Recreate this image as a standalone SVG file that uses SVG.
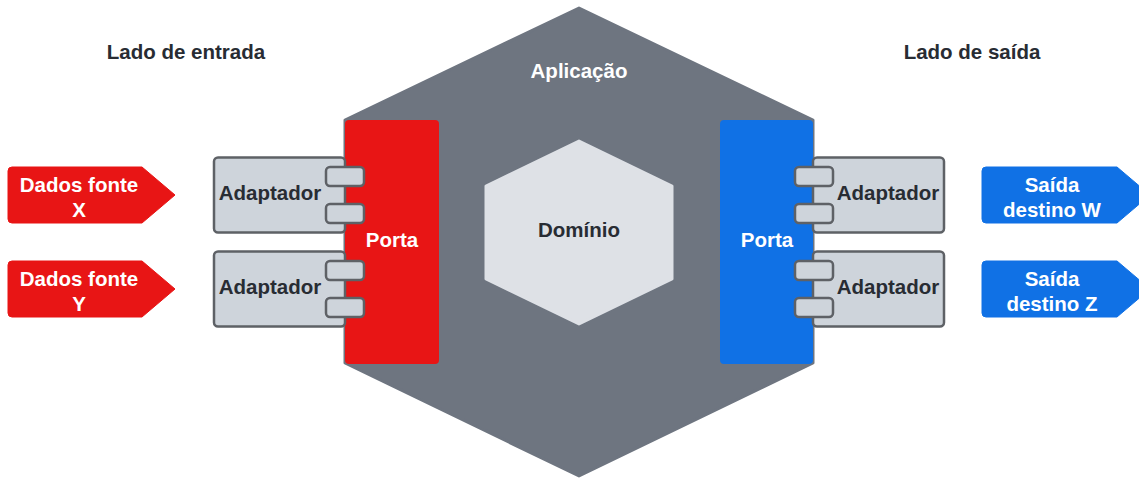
<svg xmlns="http://www.w3.org/2000/svg" width="1139" height="478" viewBox="0 0 1139 478">
<style>
text{font-family:"Liberation Sans",Arial,sans-serif;font-weight:bold;font-size:20.5px;text-anchor:middle}
.dark{fill:#282c33}
.light{fill:#ffffff}
.adapter{fill:#ced4db;stroke:#5e6166;stroke-width:2.5}
.tab{fill:#ced4db;stroke:#5e6166;stroke-width:2.5}
</style>
<rect width="1139" height="478" fill="#ffffff"/>
<g id="titles">
<text class="dark" x="186" y="59">Lado de entrada</text>
<text class="dark" x="972" y="59">Lado de saída</text>
</g>
<g id="aplicacao">
<path d="M579,8 L813,120 L813,363 L579,476 L345,363 L345,120 Z" fill="#6e7580" stroke="#6e7580" stroke-width="3" stroke-linejoin="round"/>
<text class="light" x="579" y="78">Aplicação</text>
</g>
<g id="dominio">
<path d="M579,141 L672,186 L672,279 L579,324 L486,279 L486,186 Z" fill="#dee1e6" stroke="#dee1e6" stroke-width="3" stroke-linejoin="round"/>
<text class="dark" x="579" y="237">Domínio</text>
</g>
<g id="porta-entrada">
<rect x="345" y="120" width="94" height="244" rx="4" fill="#e81515"/>
<text class="light" x="392" y="247">Porta</text>
</g>
<g id="porta-saida">
<rect x="720" y="120" width="93" height="244" rx="4" fill="#1071e5"/>
<text class="light" x="767" y="247">Porta</text>
</g>
<g id="adaptador-1">
<rect class="adapter" x="214" y="157.5" width="131" height="75" rx="4"/>
<rect class="tab" x="326" y="167" width="38" height="19" rx="4"/>
<rect class="tab" x="326" y="204" width="38" height="19" rx="4"/>
<text class="dark" x="270" y="200">Adaptador</text>
</g>
<g id="adaptador-2">
<rect class="adapter" x="214" y="251.5" width="131" height="75" rx="4"/>
<rect class="tab" x="326" y="261" width="38" height="19" rx="4"/>
<rect class="tab" x="326" y="298" width="38" height="19" rx="4"/>
<text class="dark" x="270" y="294">Adaptador</text>
</g>
<g id="adaptador-3">
<rect class="adapter" x="813" y="157.5" width="131" height="75" rx="4"/>
<rect class="tab" x="795" y="167" width="38" height="19" rx="4"/>
<rect class="tab" x="795" y="204" width="38" height="19" rx="4"/>
<text class="dark" x="888" y="200">Adaptador</text>
</g>
<g id="adaptador-4">
<rect class="adapter" x="813" y="251.5" width="131" height="75" rx="4"/>
<rect class="tab" x="795" y="261" width="38" height="19" rx="4"/>
<rect class="tab" x="795" y="298" width="38" height="19" rx="4"/>
<text class="dark" x="888" y="294">Adaptador</text>
</g>
<g id="fonte-x">
<path d="M12,167 L142,167 L175,195 L142,223 L12,223 Q8,223 8,219 L8,171 Q8,167 12,167 Z" fill="#e81515" stroke="#e81515" stroke-width="1" stroke-linejoin="round"/>
<text class="light" x="79" y="192">Dados fonte</text>
<text class="light" x="79" y="217">X</text>
</g>
<g id="fonte-y">
<path d="M12,261 L142,261 L175,289 L142,317 L12,317 Q8,317 8,313 L8,265 Q8,261 12,261 Z" fill="#e81515" stroke="#e81515" stroke-width="1" stroke-linejoin="round"/>
<text class="light" x="79" y="286">Dados fonte</text>
<text class="light" x="79" y="311">Y</text>
</g>
<g id="destino-w">
<path d="M986,167 L1117,167 L1150,195 L1117,223 L986,223 Q982,223 982,219 L982,171 Q982,167 986,167 Z" fill="#1071e5" stroke="#1071e5" stroke-width="1" stroke-linejoin="round"/>
<text class="light" x="1052" y="192">Saída</text>
<text class="light" x="1052" y="217">destino W</text>
</g>
<g id="destino-z">
<path d="M986,261 L1117,261 L1150,289 L1117,317 L986,317 Q982,317 982,313 L982,265 Q982,261 986,261 Z" fill="#1071e5" stroke="#1071e5" stroke-width="1" stroke-linejoin="round"/>
<text class="light" x="1052" y="286">Saída</text>
<text class="light" x="1052" y="311">destino Z</text>
</g>
<g id="connectors"></g>
</svg>
